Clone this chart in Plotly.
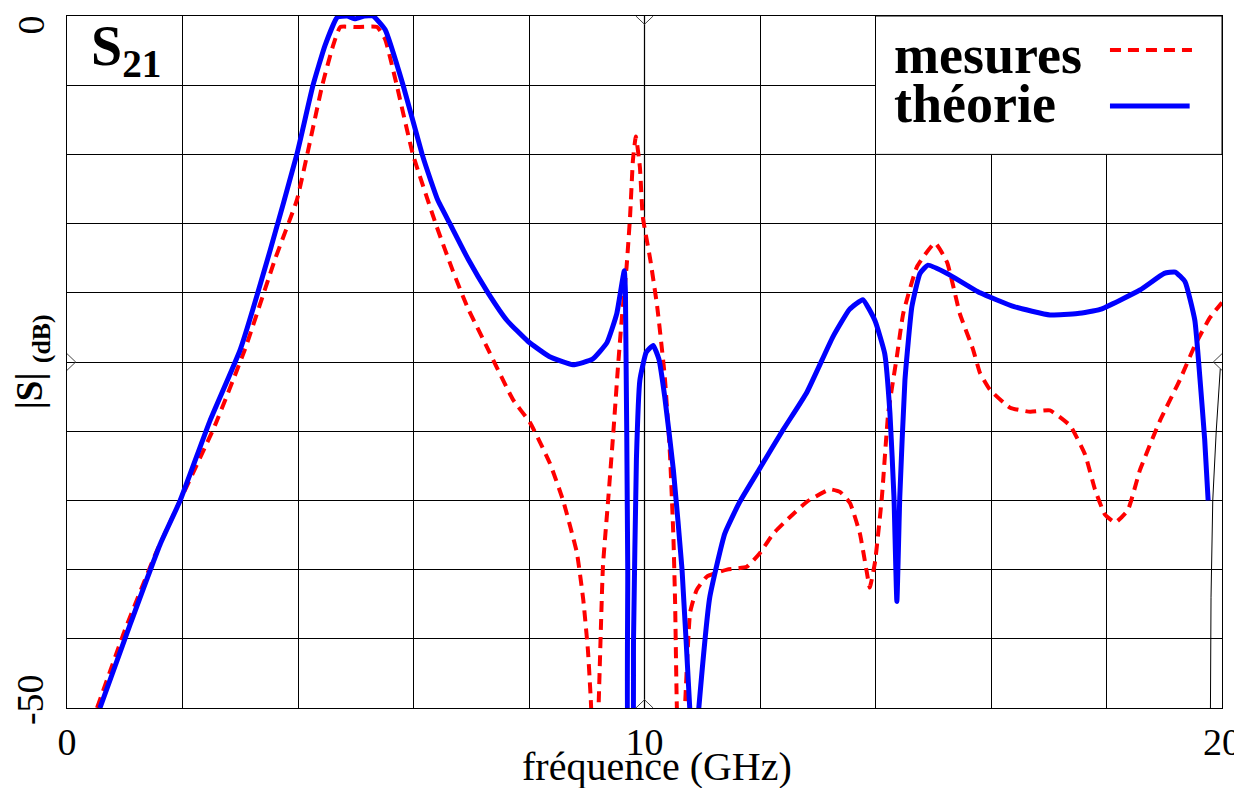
import plotly.graph_objects as go

# |S21| : mesures vs théorie (dB), fréquence en GHz

# théorie (courbe bleue)
f_theo = [0.57, 1.09, 1.61, 1.96, 2.48, 3.0, 3.52, 3.98, 4.26, 4.47, 4.68, 4.85, 4.99, 5.15, 5.3,
          5.51, 5.82, 6.15, 6.3, 6.42, 6.63, 6.95, 7.29, 7.62, 7.98, 8.35, 8.76, 9.1, 9.35, 9.52, 9.65,
          9.67, 9.71, 9.73, 9.78, 9.81, 9.86, 9.92, 10.03, 10.15, 10.25, 10.35, 10.5, 10.65, 10.79,
          10.85, 10.93, 11.13, 11.39, 11.65, 11.98, 12.4, 12.81, 13.26, 13.55, 13.78, 13.99, 14.16,
          14.25, 14.32, 14.37, 14.42, 14.51, 14.63, 14.77, 14.91, 15.24, 15.81, 16.4, 17.02, 17.5,
          17.89, 18.58, 19.0, 19.19, 19.36, 19.53, 19.62, 19.7, 19.76]
s_theo = [-50, -44.0, -38.2, -35.0, -29.2, -24.1, -16.9, -10.0, -5.0, -2.1, -0.1, 0.0, -0.2, 0.0, 0.0,
          -1.0, -5.0, -10.0, -11.9, -13.3, -15.0, -17.6, -20.0, -22.0, -23.5, -24.6, -25.2, -24.8, -23.6, -21.5, -18.4,
          -20.0, -40.0, -55.0, -55.0, -45.0, -32.0, -26.3, -24.3, -23.8, -24.8, -27.5, -32.8, -40.0, -50.5,
          -55.0, -50.5, -42.0, -37.4, -35.1, -32.8, -29.9, -27.2, -23.2, -21.2, -20.5, -22.0, -24.4,
          -28.7, -34.8, -42.3, -34.8, -26.3, -21.0, -18.6, -18.0, -18.6, -20.0, -21.0, -21.6, -21.5,
          -21.2, -19.8, -18.6, -18.5, -19.2, -22.0, -26.3, -30.6, -35.0]

# mesures (courbe rouge pointillée)
f_mes = [0.52, 1.0, 1.52, 1.96, 2.56, 3.08, 3.6, 3.98, 4.16, 4.42, 4.61, 4.73, 5.0, 5.37, 5.51,
         5.71, 5.99, 6.4, 6.68, 6.93, 7.27, 7.72, 8.02, 8.36, 8.59, 8.83, 8.94, 9.02, 9.07, 9.14,
         9.2, 9.28, 9.37, 9.46, 9.54, 9.61, 9.69, 9.75, 9.8, 9.85, 9.92, 9.97, 10.1, 10.22, 10.35,
         10.44, 10.5, 10.53, 10.56, 10.62, 10.7, 10.79, 10.9, 11.08, 11.43, 11.77, 12.0, 12.23, 12.52,
         12.81, 13.21, 13.39, 13.56, 13.73, 13.85, 13.9, 13.99, 14.11, 14.22, 14.37, 14.48, 14.72,
         15.03, 15.24, 15.46, 15.69, 15.81, 15.98, 16.33, 16.68, 17.02, 17.37, 17.63, 17.8, 17.97,
         18.15, 18.37, 18.58, 18.93, 19.27, 19.53, 19.79, 20.0]
s_mes = [-50, -44.4, -39.0, -35.0, -29.6, -24.1, -17.6, -13.3, -10.0, -5.0, -2.1, -0.8, -0.8, -0.8, -1.7,
         -5.0, -10.0, -15.2, -18.4, -21.0, -23.9, -27.7, -29.4, -32.3, -35.0, -38.8, -42.2, -45.8, -49.4, -56.0,
         -50.5, -39.8, -35.0, -30.1, -25.4, -21.7, -18.1, -14.5, -10.4, -8.7, -10.9, -14.5, -17.6, -21.0, -26.0,
         -31.6, -37.6, -42.4, -49.9, -56.0, -50.0, -43.1, -41.5, -40.5, -40.0, -39.8, -38.8, -37.4, -36.2,
         -35.1, -34.2, -34.4, -35.2, -37.4, -40.2, -41.3, -39.5, -34.8, -28.7, -24.6, -21.5, -18.1,
         -16.4, -17.8, -21.5, -24.1, -25.8, -27.0, -28.3, -28.6, -28.5, -29.6, -31.7, -34.2, -36.0,
         -36.6, -35.7, -32.8, -29.2, -26.3, -23.8, -21.8, -20.7]

# petit trait noir au bord droit
f_edge = [19.8, 19.81, 19.84, 19.9, 19.97]
s_edge = [-50, -42, -35, -30, -25.5]

x_ticks = list(range(0, 21, 2))
x_labels = ['0', '', '', '', '', '10', '', '', '', '', '20']
y_ticks = list(range(-50, 1, 5))
y_label_vals = [0, -50]
y_label_text = ['0', '-50']

SERIF = 'Liberation Serif, Times New Roman, serif'

fig = go.Figure()

fig.add_trace(go.Scatter(x=f_edge, y=s_edge, mode='lines',
                         line=dict(color='black', width=1), showlegend=False))
fig.add_trace(go.Scatter(x=f_mes, y=s_mes, mode='lines', name='mesures',
                         line=dict(color='#ff0000', width=4, dash='11px,7px',
                                   shape='spline', smoothing=0.4), showlegend=False))
fig.add_trace(go.Scatter(x=f_theo, y=s_theo, mode='lines', name='théorie',
                         line=dict(color='#0000ff', width=5, shape='spline', smoothing=0.4),
                         showlegend=False))

axis_style = dict(showgrid=True, gridcolor='black', gridwidth=1, showline=True,
                  linecolor='black', linewidth=1, mirror=True, ticks='', zeroline=False,
                  automargin=False, ticklabeloverflow='allow',
                  tickfont=dict(family=SERIF, size=38, color='black'))

fig.update_xaxes(range=[0, 20], tickvals=x_ticks, ticktext=x_labels, **axis_style)
# étiquettes de l'axe y posées en annotations (texte vertical)
fig.update_yaxes(range=[-50, 0], tickvals=y_ticks, showticklabels=False, **axis_style)

shapes = [
    # cadre de la légende
    dict(type='rect', xref='x', yref='y', x0=14, x1=20, y0=-10, y1=0,
         fillcolor='white', line=dict(color='black', width=1), layer='above'),
    dict(type='line', xref='paper', yref='paper', x0=0.903, x1=0.974, y0=0.951, y1=0.951,
         line=dict(color='#ff0000', width=4, dash='11px,7px')),
    dict(type='line', xref='paper', yref='paper', x0=0.903, x1=0.972, y0=0.870, y1=0.870,
         line=dict(color='#0000ff', width=5)),
    # ligne grise à 10 GHz
    dict(type='line', xref='x', yref='paper', x0=10, x1=10, y0=0, y1=1,
         line=dict(color='#888888', width=1.5), layer='between'),
]
# petits chevrons au milieu des axes
for p in ['M 9.85,0 L 10,-0.6 L 10.15,0', 'M 9.85,-50 L 10,-49.4 L 10.15,-50',
          'M 0,-24.4 L 0.15,-25 L 0,-25.6', 'M 20,-24.4 L 19.85,-25 L 20,-25.6']:
    shapes.append(dict(type='path', xref='x', yref='y', path=p,
                       line=dict(color='#444444', width=1)))

annotations = [
    dict(text='<b>S<sub>21</sub></b>', xref='paper', yref='paper', x=0.019, y=1.005,
         xanchor='left', yanchor='top', showarrow=False,
         font=dict(family=SERIF, size=56, color='black')),
    dict(text='<b>mesures</b>', xref='paper', yref='paper', x=0.714, y=0.944,
         xanchor='left', yanchor='middle', showarrow=False,
         font=dict(family=SERIF, size=54, color='black')),
    dict(text='<b>théorie</b>', xref='paper', yref='paper', x=0.714, y=0.873,
         xanchor='left', yanchor='middle', showarrow=False,
         font=dict(family=SERIF, size=54, color='black')),
    dict(text='<b>|S|</b> <b><sub>(dB)</sub></b>', xref='paper', yref='paper', x=-0.03, y=0.5,
         xanchor='center', yanchor='middle', textangle=-90, showarrow=False,
         font=dict(family=SERIF, size=37, color='black')),
    dict(text='fréquence (GHz)', xref='paper', yref='paper', x=0.511, y=-0.084,
         xanchor='center', yanchor='middle', showarrow=False,
         font=dict(family=SERIF, size=40, color='black')),
]
for v, t in zip(y_label_vals, y_label_text):
    annotations.append(dict(text=t, xref='paper', yref='y', x=-0.032, y=v,
                            xanchor='center', yanchor='top' if v == 0 else 'middle',
                            yshift=2 if v == 0 else 8,
                            textangle=-90, showarrow=False,
                            font=dict(family=SERIF, size=38, color='black')))

# la page ajoute une marge de 8 px autour de la figure
fig.update_layout(
    width=1234, height=780,
    margin=dict(l=59, r=20, t=8, b=80),
    plot_bgcolor='white', paper_bgcolor='white',
    shapes=shapes, annotations=annotations,
    showlegend=False,
)

fig.write_html("out.html")
